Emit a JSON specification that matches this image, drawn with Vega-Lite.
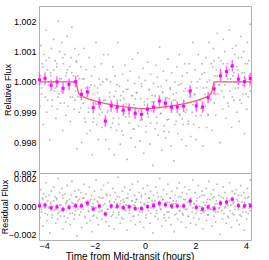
{
"$schema": "https://vega.github.io/schema/vega-lite/v6.json",
"padding": {"left": 0, "top": 5, "right": 5, "bottom": 0},
"background": "white",
"spacing": 0,
"bounds": "flush",
"config": {
 "view": {"stroke": "#b0b0b0", "strokeWidth": 1},
 "font": "Liberation Sans",
 "axis": {"labelFont": "Liberation Sans", "titleFont": "Liberation Sans", "labelFontSize": 9, "titleFontSize": 9, "titleFontWeight": "normal", "labelColor": "#000", "titleColor": "#000", "grid": false, "domain": false, "ticks": false, "labelPadding": 3, "labelOverlap": false}
},
"datasets": {
 "bins": [
  {"t":-4.18,"f":1.00007,"r":0.00005,"e":0.00019},
  {"t":-3.96,"f":1.00012,"r":0.0001,"e":0.00019},
  {"t":-3.72,"f":0.99989,"r":-0.0001,"e":0.00019},
  {"t":-3.49,"f":1.0,"r":-0.00003,"e":0.00019},
  {"t":-3.25,"f":0.99979,"r":-0.0002,"e":0.00019},
  {"t":-3.01,"f":0.99992,"r":-0.00006,"e":0.00019},
  {"t":-2.75,"f":1.00001,"r":0.00005,"e":0.00019},
  {"t":-2.52,"f":0.99959,"r":0.00005,"e":0.00019},
  {"t":-2.28,"f":0.99967,"r":0.00025,"e":0.00019},
  {"t":-2.05,"f":0.99915,"r":-0.00018,"e":0.00019},
  {"t":-1.81,"f":0.9993,"r":0.00003,"e":0.00019},
  {"t":-1.57,"f":0.99871,"r":-0.00054,"e":0.00019},
  {"t":-1.34,"f":0.99921,"r":0.00003,"e":0.00019},
  {"t":-1.10,"f":0.99917,"r":0.00002,"e":0.00019},
  {"t":-0.86,"f":0.99907,"r":-0.00008,"e":0.00019},
  {"t":-0.63,"f":0.9991,"r":-0.00002,"e":0.00019},
  {"t":-0.39,"f":0.99897,"r":-0.00014,"e":0.00019},
  {"t":-0.14,"f":0.99893,"r":-0.00015,"e":0.00019},
  {"t":0.10,"f":0.9991,"r":-0.00001,"e":0.00019},
  {"t":0.34,"f":0.99917,"r":0.00006,"e":0.00019},
  {"t":0.57,"f":0.99937,"r":0.00023,"e":0.00019},
  {"t":0.81,"f":0.9993,"r":0.00013,"e":0.00019},
  {"t":1.05,"f":0.99917,"r":0.00004,"e":0.00019},
  {"t":1.28,"f":0.99917,"r":0.00004,"e":0.00019},
  {"t":1.53,"f":0.9992,"r":0.00004,"e":0.00019},
  {"t":1.79,"f":0.9997,"r":0.0004,"e":0.00019},
  {"t":2.03,"f":0.99921,"r":-0.00006,"e":0.00019},
  {"t":2.28,"f":0.99917,"r":-0.00018,"e":0.00019},
  {"t":2.50,"f":0.99948,"r":-0.00004,"e":0.00019},
  {"t":2.74,"f":0.99977,"r":-0.00016,"e":0.00019},
  {"t":2.99,"f":1.0002,"r":0.00023,"e":0.00019},
  {"t":3.23,"f":1.00034,"r":0.00032,"e":0.00019},
  {"t":3.46,"f":1.00053,"r":0.00052,"e":0.00019},
  {"t":3.70,"f":1.00009,"r":0.00006,"e":0.00019},
  {"t":3.94,"f":1.00001,"r":0.00004,"e":0.00019},
  {"t":4.17,"f":1.00011,"r":0.00006,"e":0.00019}
 ],
 "model": [
  {"t":-4.2,"m":1.0},{"t":-2.74,"m":1.0},{"t":-2.70,"m":0.99988},{"t":-2.66,"m":0.99972},{"t":-2.62,"m":0.99962},{"t":-2.56,"m":0.99956},{"t":-2.45,"m":0.99951},{"t":-2.3,"m":0.99946},{"t":-2.1,"m":0.9994},{"t":-1.9,"m":0.99935},{"t":-1.6,"m":0.99929},{"t":-1.3,"m":0.99924},{"t":-1.0,"m":0.9992},{"t":-0.6,"m":0.99916},{"t":-0.3,"m":0.99913},{"t":0,"m":0.99912},{"t":0.3,"m":0.99913},{"t":0.6,"m":0.99916},{"t":1.0,"m":0.9992},{"t":1.3,"m":0.99924},{"t":1.6,"m":0.99929},{"t":1.9,"m":0.99935},{"t":2.1,"m":0.9994},{"t":2.3,"m":0.99946},{"t":2.45,"m":0.99951},{"t":2.56,"m":0.99956},{"t":2.62,"m":0.99962},{"t":2.66,"m":0.99972},{"t":2.70,"m":0.99988},{"t":2.74,"m":1.0},{"t":4.2,"m":1.0}
 ],
 "raw": [
  {"t":-4.19,"f":1.0003,"r":0.0003},{"t":-4.16,"f":0.9992,"r":-0.0008},{"t":-4.13,"f":1.0012,"r":0.0012},{"t":-4.10,"f":0.9998,"r":-0.0002},{"t":-4.07,"f":1.0006,"r":0.0006},{"t":-4.04,"f":0.9986,"r":-0.0014},{"t":-4.01,"f":1.0009,"r":0.0009},{"t":-3.98,"f":1.0001,"r":0.0001},{"t":-3.95,"f":0.9995,"r":-0.0005},{"t":-3.92,"f":1.0017,"r":0.0017},
  {"t":-3.89,"f":0.999,"r":-0.001},{"t":-3.86,"f":1.0004,"r":0.0004},{"t":-3.83,"f":0.9999,"r":-0.0001},{"t":-3.80,"f":1.0008,"r":0.0008},{"t":-3.77,"f":0.9981,"r":-0.0019},{"t":-3.74,"f":1.0002,"r":0.0002},{"t":-3.71,"f":1.0011,"r":0.0011},{"t":-3.68,"f":0.9994,"r":-0.0006},{"t":-3.65,"f":1.0,"r":0},{"t":-3.62,"f":1.0014,"r":0.0014},
  {"t":-3.59,"f":0.9997,"r":-0.0003},{"t":-3.56,"f":1.0007,"r":0.0007},{"t":-3.53,"f":0.9988,"r":-0.0012},{"t":-3.50,"f":1.0005,"r":0.0005},{"t":-3.47,"f":0.9991,"r":-0.0009},{"t":-3.44,"f":1.002,"r":0.002},{"t":-3.41,"f":0.9996,"r":-0.0004},{"t":-3.38,"f":1.001,"r":0.001},{"t":-3.35,"f":0.9993,"r":-0.0007},{"t":-3.32,"f":1.0001,"r":0.0001},
  {"t":-3.29,"f":1.0013,"r":0.0013},{"t":-3.26,"f":0.9984,"r":-0.0016},{"t":-3.23,"f":1.0006,"r":0.0006},{"t":-3.20,"f":0.9998,"r":-0.0002},{"t":-3.17,"f":1.0009,"r":0.0009},{"t":-3.14,"f":0.9989,"r":-0.0011},{"t":-3.11,"f":1.0003,"r":0.0003},{"t":-3.08,"f":1.0015,"r":0.0015},{"t":-3.05,"f":0.9992,"r":-0.0008},{"t":-3.02,"f":0.9999,"r":-0.0001},
  {"t":-2.99,"f":1.0005,"r":0.0005},{"t":-2.96,"f":0.9987,"r":-0.0013},{"t":-2.93,"f":1.0008,"r":0.0008},{"t":-2.90,"f":1.0018,"r":0.0018},{"t":-2.87,"f":0.9995,"r":-0.0005},{"t":-2.84,"f":1.0002,"r":0.0002},{"t":-2.81,"f":0.9991,"r":-0.0009},{"t":-2.78,"f":1.0011,"r":0.0011},{"t":-2.75,"f":0.9997,"r":-0.0003},{"t":-2.72,"f":1.0007,"r":0.0007},
  {"t":-2.69,"f":0.9978,"r":-0.0021},{"t":-2.66,"f":1.0002,"r":0.0004},{"t":-2.63,"f":1.0009,"r":0.0012},{"t":-2.60,"f":0.999,"r":-0.0006},{"t":-2.57,"f":0.9995,"r":0},{"t":-2.54,"f":1.0005,"r":0.001},{"t":-2.51,"f":0.998,"r":-0.0015},{"t":-2.48,"f":1.0001,"r":0.0006},{"t":-2.45,"f":0.9993,"r":-0.0002},{"t":-2.42,"f":1.0011,"r":0.0016},
  {"t":-2.39,"f":0.9988,"r":-0.0007},{"t":-2.36,"f":0.9998,"r":0.0003},{"t":-2.33,"f":1.0004,"r":0.0009},{"t":-2.30,"f":0.9983,"r":-0.0012},{"t":-2.27,"f":0.9996,"r":0.0001},{"t":-2.24,"f":0.999,"r":-0.0004},{"t":-2.21,"f":1.0008,"r":0.0014},{"t":-2.18,"f":0.9984,"r":-0.001},{"t":-2.15,"f":0.9999,"r":0.0005},{"t":-2.12,"f":1.0002,"r":0.0008},
  {"t":-2.09,"f":0.9976,"r":-0.0018},{"t":-2.06,"f":0.9996,"r":0.0002},{"t":-2.03,"f":0.9988,"r":-0.0006},{"t":-2.00,"f":1.0005,"r":0.0011},{"t":-1.97,"f":0.9993,"r":-0.0001},{"t":-1.94,"f":1.0013,"r":0.0019},{"t":-1.91,"f":0.9986,"r":-0.0008},{"t":-1.88,"f":0.9998,"r":0.0004},{"t":-1.85,"f":0.9981,"r":-0.0013},{"t":-1.82,"f":1.0001,"r":0.0007},
  {"t":-1.79,"f":0.9994,"r":0},{"t":-1.76,"f":0.9991,"r":-0.0003},{"t":-1.73,"f":1.0006,"r":0.0012},{"t":-1.70,"f":0.9985,"r":-0.0009},{"t":-1.67,"f":1.0,"r":0.0006},{"t":-1.64,"f":1.0009,"r":0.0015},{"t":-1.61,"f":0.9987,"r":-0.0005},{"t":-1.58,"f":0.9994,"r":0.0002},{"t":-1.55,"f":0.9981,"r":-0.0011},{"t":-1.52,"f":1.0001,"r":0.0009},
  {"t":-1.49,"f":0.999,"r":-0.0002},{"t":-1.46,"f":1.0009,"r":0.0017},{"t":-1.43,"f":0.9978,"r":-0.0014},{"t":-1.40,"f":0.9995,"r":0.0003},{"t":-1.37,"f":1.0,"r":0.0008},{"t":-1.34,"f":0.9985,"r":-0.0007},{"t":-1.31,"f":0.9993,"r":0.0001},{"t":-1.28,"f":1.0005,"r":0.0013},{"t":-1.25,"f":0.9988,"r":-0.0004},{"t":-1.22,"f":0.9976,"r":-0.0016},
  {"t":-1.19,"f":1.0002,"r":0.001},{"t":-1.16,"f":0.9997,"r":0.0005},{"t":-1.13,"f":0.9984,"r":-0.0008},{"t":-1.10,"f":0.9994,"r":0.0002},{"t":-1.07,"f":1.0013,"r":0.0021},{"t":-1.04,"f":0.9986,"r":-0.0006},{"t":-1.01,"f":0.99985,"r":0.0007},{"t":-0.98,"f":0.99795,"r":-0.0012},{"t":-0.95,"f":0.99955,"r":0.0004},{"t":-0.92,"f":0.99905,"r":-0.0001},
  {"t":-0.89,"f":1.00025,"r":0.0011},{"t":-0.86,"f":0.99825,"r":-0.0009},{"t":-0.83,"f":0.99945,"r":0.0003},{"t":-0.80,"f":1.00055,"r":0.0014},{"t":-0.77,"f":0.99885,"r":-0.0003},{"t":-0.74,"f":0.99975,"r":0.0006},{"t":-0.71,"f":0.99745,"r":-0.0017},{"t":-0.68,"f":1.00005,"r":0.0009},{"t":-0.65,"f":0.99915,"r":0},{"t":-0.62,"f":0.99865,"r":-0.0005},
  {"t":-0.59,"f":1.00035,"r":0.0012},{"t":-0.56,"f":0.99815,"r":-0.001},{"t":-0.53,"f":0.99955,"r":0.0004},{"t":-0.50,"f":1.00075,"r":0.0016},{"t":-0.47,"f":0.99845,"r":-0.0007},{"t":-0.44,"f":0.99925,"r":0.0001},{"t":-0.41,"f":0.99995,"r":0.0008},{"t":-0.38,"f":0.99785,"r":-0.0013},{"t":-0.35,"f":0.99965,"r":0.0005},{"t":-0.32,"f":0.99895,"r":-0.0002},
  {"t":-0.29,"f":1.00095,"r":0.0018},{"t":-0.26,"f":0.99855,"r":-0.0006},{"t":-0.23,"f":1.00015,"r":0.001},{"t":-0.20,"f":0.99805,"r":-0.0011},{"t":-0.17,"f":0.99945,"r":0.0003},{"t":-0.14,"f":0.99985,"r":0.0007},{"t":-0.11,"f":0.99875,"r":-0.0004},{"t":-0.08,"f":1.00045,"r":0.0013},{"t":-0.05,"f":0.99765,"r":-0.0015},{"t":-0.02,"f":0.99935,"r":0.0002},
  {"t":0.01,"f":1.00005,"r":0.0009},{"t":0.04,"f":0.99835,"r":-0.0008},{"t":0.07,"f":0.99915,"r":0},{"t":0.10,"f":1.00065,"r":0.0015},{"t":0.13,"f":0.99885,"r":-0.0003},{"t":0.16,"f":0.99975,"r":0.0006},{"t":0.19,"f":0.99795,"r":-0.0012},{"t":0.22,"f":1.00025,"r":0.0011},{"t":0.25,"f":0.99905,"r":-0.0001},{"t":0.28,"f":0.99955,"r":0.0004},
  {"t":0.31,"f":0.99725,"r":-0.0019},{"t":0.34,"f":0.99995,"r":0.0008},{"t":0.37,"f":0.99935,"r":0.0002},{"t":0.40,"f":0.99845,"r":-0.0007},{"t":0.43,"f":1.00055,"r":0.0014},{"t":0.46,"f":0.99865,"r":-0.0005},{"t":0.49,"f":1.00015,"r":0.001},{"t":0.52,"f":0.99825,"r":-0.0009},{"t":0.55,"f":0.99945,"r":0.0003},{"t":0.58,"f":1.00115,"r":0.002},
  {"t":0.61,"f":0.99895,"r":-0.0002},{"t":0.64,"f":0.99985,"r":0.0007},{"t":0.67,"f":0.99775,"r":-0.0014},{"t":0.70,"f":0.99965,"r":0.0005},{"t":0.73,"f":1.00035,"r":0.0012},{"t":0.76,"f":0.99855,"r":-0.0006},{"t":0.79,"f":0.99925,"r":0.0001},{"t":0.82,"f":0.99815,"r":-0.001},{"t":0.85,"f":1.00005,"r":0.0009},{"t":0.88,"f":0.99875,"r":-0.0004},
  {"t":0.91,"f":1.00075,"r":0.0016},{"t":0.94,"f":0.99835,"r":-0.0008},{"t":0.97,"f":0.99945,"r":0.0003},{"t":1.00,"f":0.99975,"r":0.0006},{"t":1.03,"f":0.9979,"r":-0.0013},{"t":1.06,"f":1.0003,"r":0.0011},{"t":1.09,"f":0.9991,"r":-0.0001},{"t":1.12,"f":0.9996,"r":0.0004},{"t":1.15,"f":0.9974,"r":-0.0018},{"t":1.18,"f":1.0,"r":0.0008},
  {"t":1.21,"f":0.9994,"r":0.0002},{"t":1.24,"f":0.9987,"r":-0.0005},{"t":1.27,"f":1.0005,"r":0.0013},{"t":1.30,"f":0.9983,"r":-0.0009},{"t":1.33,"f":0.9999,"r":0.0007},{"t":1.36,"f":1.0009,"r":0.0017},{"t":1.39,"f":0.9989,"r":-0.0003},{"t":1.42,"f":0.9992,"r":0},{"t":1.45,"f":0.9981,"r":-0.0011},{"t":1.48,"f":1.0002,"r":0.001},
  {"t":1.51,"f":0.9986,"r":-0.0006},{"t":1.54,"f":0.9997,"r":0.0005},{"t":1.57,"f":1.0006,"r":0.0014},{"t":1.60,"f":0.999,"r":-0.0002},{"t":1.63,"f":0.9979,"r":-0.0015},{"t":1.66,"f":1.0003,"r":0.0009},{"t":1.69,"f":0.9997,"r":0.0003},{"t":1.72,"f":0.9987,"r":-0.0007},{"t":1.75,"f":1.0006,"r":0.0012},{"t":1.78,"f":0.9995,"r":0.0001},
  {"t":1.81,"f":0.9982,"r":-0.0012},{"t":1.84,"f":1.0,"r":0.0006},{"t":1.87,"f":0.999,"r":-0.0004},{"t":1.90,"f":1.0013,"r":0.0019},{"t":1.93,"f":0.9986,"r":-0.0008},{"t":1.96,"f":0.9996,"r":0.0002},{"t":1.99,"f":1.0004,"r":0.001},{"t":2.02,"f":0.9981,"r":-0.0013},{"t":2.05,"f":0.9998,"r":0.0004},{"t":2.08,"f":0.9993,"r":-0.0001},
  {"t":2.11,"f":1.0009,"r":0.0015},{"t":2.14,"f":0.9985,"r":-0.0009},{"t":2.17,"f":1.0001,"r":0.0007},{"t":2.20,"f":0.9994,"r":0},{"t":2.23,"f":0.9989,"r":-0.0005},{"t":2.26,"f":1.0006,"r":0.0011},{"t":2.29,"f":0.9979,"r":-0.0016},{"t":2.32,"f":0.9998,"r":0.0003},{"t":2.35,"f":1.0003,"r":0.0008},{"t":2.38,"f":0.9992,"r":-0.0003},
  {"t":2.41,"f":1.0008,"r":0.0013},{"t":2.44,"f":0.9985,"r":-0.001},{"t":2.47,"f":1.0,"r":0.0005},{"t":2.50,"f":0.9989,"r":-0.0006},{"t":2.53,"f":1.0013,"r":0.0018},{"t":2.56,"f":0.9996,"r":0.0001},{"t":2.59,"f":0.9994,"r":-0.0002},{"t":2.62,"f":1.0006,"r":0.0009},{"t":2.65,"f":0.9984,"r":-0.0014},{"t":2.68,"f":1.0005,"r":0.0006},
  {"t":2.71,"f":1.0011,"r":0.0012},{"t":2.74,"f":0.9993,"r":-0.0007},{"t":2.77,"f":1.0002,"r":0.0002},{"t":2.80,"f":0.9989,"r":-0.0011},{"t":2.83,"f":1.0004,"r":0.0004},{"t":2.86,"f":1.0016,"r":0.0016},{"t":2.89,"f":0.9996,"r":-0.0004},{"t":2.92,"f":1.0008,"r":0.0008},{"t":2.95,"f":0.9999,"r":-0.0001},{"t":2.98,"f":0.998,"r":-0.002},
  {"t":3.01,"f":1.0007,"r":0.0007},{"t":3.04,"f":1.0003,"r":0.0003},{"t":3.07,"f":0.9991,"r":-0.0009},{"t":3.10,"f":1.0014,"r":0.0014},{"t":3.13,"f":0.9995,"r":-0.0005},{"t":3.16,"f":1.001,"r":0.001},{"t":3.19,"f":1.0,"r":0},{"t":3.22,"f":0.9988,"r":-0.0012},{"t":3.25,"f":1.0006,"r":0.0006},{"t":3.28,"f":1.0001,"r":0.0001},
  {"t":3.31,"f":0.9992,"r":-0.0008},{"t":3.34,"f":1.0017,"r":0.0017},{"t":3.37,"f":0.9997,"r":-0.0003},{"t":3.40,"f":1.0005,"r":0.0005},{"t":3.43,"f":0.9985,"r":-0.0015},{"t":3.46,"f":1.0011,"r":0.0011},{"t":3.49,"f":1.0002,"r":0.0002},{"t":3.52,"f":0.9994,"r":-0.0006},{"t":3.55,"f":1.0009,"r":0.0009},{"t":3.58,"f":0.9998,"r":-0.0002},
  {"t":3.61,"f":1.0012,"r":0.0012},{"t":3.64,"f":0.999,"r":-0.001},{"t":3.67,"f":1.0004,"r":0.0004},{"t":3.70,"f":1.0008,"r":0.0008},{"t":3.73,"f":0.9987,"r":-0.0013},{"t":3.76,"f":1.0,"r":0},{"t":3.79,"f":1.0015,"r":0.0015},{"t":3.82,"f":0.9993,"r":-0.0007},{"t":3.85,"f":1.0003,"r":0.0003},{"t":3.88,"f":0.9996,"r":-0.0004},
  {"t":3.91,"f":1.001,"r":0.001},{"t":3.94,"f":0.9983,"r":-0.0017},{"t":3.97,"f":1.0006,"r":0.0006},{"t":4.00,"f":1.0001,"r":0.0001},{"t":4.03,"f":0.9991,"r":-0.0009},{"t":4.06,"f":1.0013,"r":0.0013},{"t":4.09,"f":0.9995,"r":-0.0005},{"t":4.12,"f":1.0007,"r":0.0007},{"t":4.15,"f":0.9999,"r":-0.0001},{"t":4.18,"f":1.0019,"r":0.0019},
  {"t":-4.16,"f":1.0002,"r":0.0002},{"t":-4.10,"f":0.9996,"r":-0.0004},{"t":-4.04,"f":1.0005,"r":0.0005},{"t":-3.98,"f":0.9999,"r":-0.0001},{"t":-3.92,"f":1.0007,"r":0.0007},{"t":-3.86,"f":0.9994,"r":-0.0006},{"t":-3.80,"f":1.0,"r":0},{"t":-3.74,"f":1.0003,"r":0.0003},{"t":-3.68,"f":0.9992,"r":-0.0008},{"t":-3.62,"f":1.0004,"r":0.0004},
  {"t":-3.56,"f":0.9998,"r":-0.0002},{"t":-3.50,"f":1.0006,"r":0.0006},{"t":-3.44,"f":0.9995,"r":-0.0005},{"t":-3.38,"f":1.0001,"r":0.0001},{"t":-3.32,"f":0.9997,"r":-0.0003},{"t":-3.26,"f":1.0008,"r":0.0008},{"t":-3.20,"f":0.9993,"r":-0.0007},{"t":-3.14,"f":1.0002,"r":0.0002},{"t":-3.08,"f":1.0004,"r":0.0004},{"t":-3.02,"f":0.9999,"r":-0.0001},
  {"t":-2.96,"f":0.9995,"r":-0.0005},{"t":-2.90,"f":1.0003,"r":0.0003},{"t":-2.84,"f":1.0,"r":0},{"t":-2.78,"f":0.9994,"r":-0.0006},{"t":-2.72,"f":1.00065,"r":0.0007},{"t":-2.66,"f":0.99952,"r":-0.0002},{"t":-2.60,"f":1.0001,"r":0.0005},{"t":-2.54,"f":0.99915,"r":-0.0004},{"t":-2.48,"f":0.99962,"r":0.0001},{"t":-2.42,"f":1.0001,"r":0.0006},
  {"t":-2.36,"f":0.99868,"r":-0.0008},{"t":-2.30,"f":0.99966,"r":0.0002},{"t":-2.24,"f":0.99914,"r":-0.0003},{"t":-2.18,"f":0.99982,"r":0.0004},{"t":-2.12,"f":0.9994,"r":0},{"t":-2.06,"f":0.99869,"r":-0.0007},{"t":-2.00,"f":0.99987,"r":0.0005},{"t":-1.94,"f":0.99926,"r":-0.0001},{"t":-1.88,"f":0.99965,"r":0.0003},{"t":-1.82,"f":0.99893,"r":-0.0004},
  {"t":-1.76,"f":0.99992,"r":0.0006},{"t":-1.70,"f":0.999,"r":-0.0003},{"t":-1.64,"f":0.99939,"r":0.0001},{"t":-1.58,"f":0.99878,"r":-0.0005},{"t":-1.52,"f":1.00007,"r":0.0008},{"t":-1.46,"f":0.99906,"r":-0.0002},{"t":-1.40,"f":0.99965,"r":0.0004},{"t":-1.34,"f":0.99924,"r":0},{"t":-1.28,"f":0.99864,"r":-0.0006},{"t":-1.22,"f":0.99953,"r":0.0003},
  {"t":-1.16,"f":0.99912,"r":-0.0001},{"t":-1.10,"f":0.99991,"r":0.0007},{"t":-1.04,"f":0.9988,"r":-0.0004},{"t":-0.98,"f":0.9994,"r":0.0002},{"t":-0.92,"f":0.99839,"r":-0.0008},{"t":-0.86,"f":0.99968,"r":0.0005},{"t":-0.80,"f":0.99897,"r":-0.0002},{"t":-0.74,"f":0.99927,"r":0.0001},{"t":-0.68,"f":0.99976,"r":0.0006},{"t":-0.62,"f":0.99886,"r":-0.0003},
  {"t":-0.56,"f":0.99914,"r":0},{"t":-0.50,"f":0.99954,"r":0.0004},{"t":-0.44,"f":0.99844,"r":-0.0007},{"t":-0.38,"f":0.99944,"r":0.0003},{"t":-0.32,"f":0.99964,"r":0.0005},{"t":-0.26,"f":0.99904,"r":-0.0001},{"t":-0.20,"f":0.99874,"r":-0.0004},{"t":-0.14,"f":0.99994,"r":0.0008},{"t":-0.08,"f":0.99894,"r":-0.0002},{"t":-0.02,"f":0.99924,"r":0.0001},
  {"t":0.04,"f":0.99854,"r":-0.0006},{"t":0.10,"f":0.99944,"r":0.0003},{"t":0.16,"f":0.99974,"r":0.0006},{"t":0.22,"f":0.99864,"r":-0.0005},{"t":0.28,"f":0.99934,"r":0.0002},{"t":0.34,"f":0.99904,"r":-0.0001},{"t":0.40,"f":0.99954,"r":0.0004},{"t":0.46,"f":0.99884,"r":-0.0003},{"t":0.52,"f":0.99984,"r":0.0007},{"t":0.58,"f":0.99914,"r":0},
  {"t":0.64,"f":0.99897,"r":-0.0002},{"t":0.70,"f":0.99967,"r":0.0005},{"t":0.76,"f":0.99837,"r":-0.0008},{"t":0.82,"f":0.99927,"r":0.0001},{"t":0.88,"f":0.99947,"r":0.0003},{"t":0.94,"f":0.99877,"r":-0.0004},{"t":1.00,"f":0.9998,"r":0.0006},{"t":1.06,"f":0.9991,"r":-0.0001},{"t":1.12,"f":0.9994,"r":0.0002},{"t":1.18,"f":0.9986,"r":-0.0006},
  {"t":1.24,"f":0.99964,"r":0.0004},{"t":1.30,"f":0.99924,"r":0},{"t":1.36,"f":0.99894,"r":-0.0003},{"t":1.42,"f":0.99994,"r":0.0007},{"t":1.48,"f":0.99878,"r":-0.0005},{"t":1.54,"f":0.99938,"r":0.0001},{"t":1.60,"f":0.99978,"r":0.0005},{"t":1.66,"f":0.99908,"r":-0.0002},{"t":1.72,"f":0.99862,"r":-0.0007},{"t":1.78,"f":0.99962,"r":0.0003},
  {"t":1.84,"f":0.99974,"r":0.0004},{"t":1.90,"f":0.99925,"r":-0.0001},{"t":1.96,"f":0.99957,"r":0.0002},{"t":2.02,"f":0.99888,"r":-0.0005},{"t":2.08,"f":1.0,"r":0.0006},{"t":2.14,"f":0.99941,"r":0},{"t":2.20,"f":0.99913,"r":-0.0003},{"t":2.26,"f":1.00025,"r":0.0008},{"t":2.32,"f":0.99907,"r":-0.0004},{"t":2.38,"f":0.99959,"r":0.0001},
  {"t":2.44,"f":0.99981,"r":0.0003},{"t":2.50,"f":0.99893,"r":-0.0006},{"t":2.56,"f":1.00006,"r":0.0005},{"t":2.62,"f":0.99942,"r":-0.0002},{"t":2.68,"f":0.9998,"r":0},{"t":2.74,"f":1.0007,"r":0.0007},{"t":2.80,"f":0.9996,"r":-0.0004},{"t":2.86,"f":1.0002,"r":0.0002},{"t":2.92,"f":0.9999,"r":-0.0001},{"t":2.98,"f":1.0004,"r":0.0004},
  {"t":3.04,"f":0.9997,"r":-0.0003},{"t":3.10,"f":1.0006,"r":0.0006},{"t":3.16,"f":0.9999,"r":-0.0001},{"t":3.22,"f":1.0002,"r":0.0002},{"t":3.28,"f":0.9993,"r":-0.0007},{"t":3.34,"f":1.0004,"r":0.0004},{"t":3.40,"f":1.0001,"r":0.0001},{"t":3.46,"f":0.9995,"r":-0.0005},{"t":3.52,"f":1.0003,"r":0.0003},{"t":3.58,"f":1.0,"r":0},
  {"t":3.64,"f":1.0005,"r":0.0005},{"t":3.70,"f":0.9998,"r":-0.0002},{"t":3.76,"f":0.9994,"r":-0.0006},{"t":3.82,"f":1.0008,"r":0.0008},{"t":3.88,"f":0.9999,"r":-0.0001},{"t":3.94,"f":1.0003,"r":0.0003},{"t":4.00,"f":0.9996,"r":-0.0004},{"t":4.06,"f":1.0006,"r":0.0006},{"t":4.12,"f":1.0002,"r":0.0002},{"t":4.18,"f":0.9997,"r":-0.0003}
 ]
},
"vconcat": [
 {
  "width": 212, "height": 167,
  "layer": [
   {"data": {"name": "raw"},
    "mark": {"type": "point", "shape": "square", "filled": true, "size": 2.5, "color": "#999999", "opacity": 0.7},
    "encoding": {
     "x": {"field": "t", "type": "quantitative", "scale": {"domain": [-4.2, 4.2], "nice": false, "zero": false}, "axis": null},
     "y": {"field": "f", "type": "quantitative", "scale": {"domain": [0.997, 1.0025], "nice": false, "zero": false}, "title": "Relative Flux",
           "axis": {"values": [0.997, 0.998, 0.999, 1.0, 1.001, 1.002], "tickCount": 20, "format": ".3f", "titleX": -26.5, "labelOverlap": false}}
    }},
   {"data": {"name": "model"},
    "mark": {"type": "line", "color": "#ff5a5a", "strokeWidth": 1.3},
    "encoding": {"x": {"field": "t", "type": "quantitative", "axis": null}, "y": {"field": "m", "type": "quantitative", "title": "Relative Flux"}}},
   {"data": {"name": "bins"},
    "mark": {"type": "errorbar", "color": "#ff44ff", "thickness": 1.5, "opacity": 0.8},
    "encoding": {"x": {"field": "t", "type": "quantitative", "axis": null}, "y": {"field": "f", "type": "quantitative", "title": "Relative Flux"}, "yError": {"field": "e"}}},
   {"data": {"name": "bins"},
    "mark": {"type": "point", "shape": "square", "filled": true, "size": 9, "color": "#ff00ff", "opacity": 1},
    "encoding": {"x": {"field": "t", "type": "quantitative", "axis": null}, "y": {"field": "f", "type": "quantitative", "title": "Relative Flux"}}}
  ]
 },
 {
  "width": 212, "height": 67,
  "layer": [
   {"data": {"name": "raw"},
    "mark": {"type": "point", "shape": "square", "filled": true, "size": 2.5, "color": "#999999", "opacity": 0.7},
    "encoding": {
     "x": {"field": "t", "type": "quantitative", "scale": {"domain": [-4.2, 4.2], "nice": false, "zero": false}, "title": "Time from Mid-transit (hours)",
           "axis": {"values": [-4, -2, 0, 2, 4], "tickCount": 20, "format": "d", "labelPadding": 1, "titlePadding": 1, "titleFontSize": 10, "titleX": 90.5, "labelOverlap": false}},
     "y": {"field": "r", "type": "quantitative", "scale": {"domain": [-0.0024, 0.0024], "nice": false, "zero": false}, "title": "Residual Flux",
           "axis": {"values": [-0.002, 0, 0.002], "tickCount": 20, "format": ".3f", "titleX": -29.5, "labelOverlap": false}}
    }},
   {"mark": {"type": "rule", "color": "#ff5a5a", "strokeWidth": 1.3},
    "encoding": {"y": {"datum": 0, "type": "quantitative", "title": "Residual Flux"}}},
   {"data": {"name": "bins"},
    "mark": {"type": "errorbar", "color": "#ff44ff", "thickness": 1.5, "opacity": 0.8},
    "encoding": {"x": {"field": "t", "type": "quantitative", "title": "Time from Mid-transit (hours)"}, "y": {"field": "r", "type": "quantitative", "title": "Residual Flux"}, "yError": {"field": "e"}}},
   {"data": {"name": "bins"},
    "mark": {"type": "point", "shape": "square", "filled": true, "size": 9, "color": "#ff00ff", "opacity": 1},
    "encoding": {"x": {"field": "t", "type": "quantitative", "title": "Time from Mid-transit (hours)"}, "y": {"field": "r", "type": "quantitative", "title": "Residual Flux"}}}
  ]
 }
]
}
